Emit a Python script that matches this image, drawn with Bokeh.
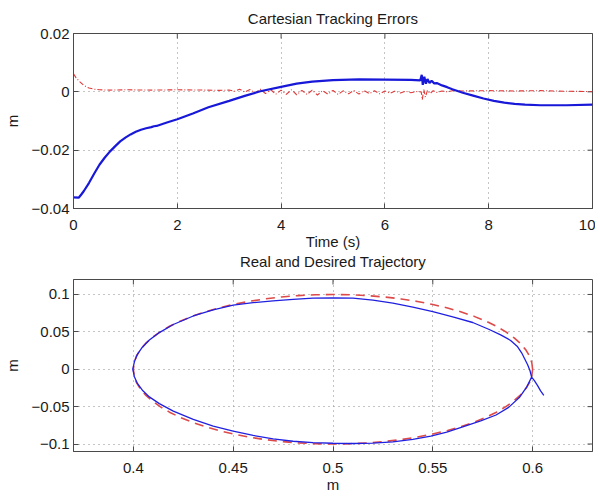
import math
from bokeh.plotting import figure
from bokeh.layouts import column
from bokeh.models import FixedTicker, CustomJSTickFormatter, Title, Range1d
from bokeh.embed import file_html
from bokeh.resources import INLINE

# ---------------- data: top panel (Cartesian tracking errors) ----------------
t_blue = [0, 0.1, 0.15, 0.2, 0.3, 0.4, 0.5, 0.6, 0.7, 0.8, 0.9, 1.0, 1.1, 1.2, 1.3, 1.4, 1.5,
          1.55, 1.6, 1.7, 1.8, 2.0, 2.3, 2.6, 3.0, 3.3, 3.6, 4.0, 4.3, 4.6, 5.0, 5.5, 6.0, 6.5,
          6.68, 6.71, 6.73, 6.76, 6.79, 6.82, 6.86, 6.9, 6.95, 7.0, 7.1, 7.2, 7.3, 7.5, 7.7,
          7.9, 8.1, 8.3, 8.5, 8.7, 9.0, 9.5, 10.0]
e_blue = [-0.0362, -0.0363, -0.0352, -0.0340, -0.0312, -0.0280, -0.0250, -0.0226, -0.0205,
          -0.0187, -0.0170, -0.0157, -0.0146, -0.0137, -0.0130, -0.0125, -0.0121, -0.0118,
          -0.0117, -0.0111, -0.0105, -0.0094, -0.0074, -0.0053, -0.0031, -0.0014, 0.0002,
          0.0017, 0.0028, 0.0035, 0.0040, 0.0043, 0.0042, 0.0041, 0.0039, 0.0058, 0.0024,
          0.0052, 0.0028, 0.0044, 0.0030, 0.0038, 0.0029, 0.0030, 0.0022, 0.0016, 0.0009,
          -0.0003, -0.0013, -0.0023, -0.0031, -0.0037, -0.0041, -0.0044, -0.0046, -0.0046,
          -0.0044]

t_red = [0, 0.05, 0.1, 0.15, 0.2, 0.25, 0.3, 0.4, 0.5, 0.7, 1.0, 1.5, 2.0, 2.5, 2.8, 3.0,
         3.1, 3.2, 3.3, 3.4, 3.5, 3.6, 3.7, 3.8, 3.9, 4.0, 4.1, 4.2, 4.3, 4.4, 4.5, 4.6, 4.7,
         4.8, 4.9, 5.0, 5.1, 5.2, 5.3, 5.4, 5.5, 5.6, 5.7, 5.8, 5.9, 6.0, 6.1, 6.2, 6.3, 6.4,
         6.5, 6.6, 6.7, 6.72, 6.75, 6.78, 6.82, 6.87, 6.93, 7.0, 7.1, 7.2, 7.3, 7.5, 8.0, 8.5,
         9.0, 9.5, 10.0]
e_red = [0.0062, 0.0048, 0.0038, 0.0030, 0.0022, 0.0017, 0.0013, 0.0009, 0.0007, 0.0006,
         0.0007, 0.0006, 0.0007, 0.0006, 0.0005, 0.0006,
         0.0002, 0.0009, -0.0001, 0.0008, -0.0004, 0.0009, -0.0006, 0.0007, -0.0008, 0.0006,
         -0.0009, 0.0007, -0.0010, 0.0005, -0.0009, 0.0006, -0.0011, 0.0004, -0.0008, 0.0005,
         -0.0009, 0.0004, -0.0007, 0.0005, -0.0008, 0.0004, -0.0006, 0.0004, -0.0007, 0.0003,
         -0.0005, 0.0003, -0.0004, 0.0002, -0.0003, 0.0001, 0.0000, -0.0027, 0.0008, -0.0018,
         0.0005, -0.0006, 0.0004, -0.0002, 0.0003, 0.0000, 0.0004, 0.0003, 0.0004, 0.0003,
         0.0004, 0.0002, 0.0001]

top_xrange = (0, 10)
top_yrange = (-0.04, 0.02)
top_xticks = [0, 2, 4, 6, 8, 10]
top_yticks = [-0.04, -0.02, 0, 0.02]

# ---------------- data: bottom panel (real and desired trajectory) ----------------
des_x = [0.6000, 0.5996, 0.5985, 0.5966, 0.5940, 0.5906, 0.5866, 0.5819, 0.5766, 0.5707,
         0.5643, 0.5574, 0.5500, 0.5423, 0.5342, 0.5259, 0.5174, 0.5087, 0.5000,
         0.4913, 0.4826, 0.4741, 0.4658, 0.4577, 0.4500, 0.4426, 0.4357, 0.4293, 0.4234,
         0.4181, 0.4134, 0.4094, 0.4060, 0.4034, 0.4015, 0.4004, 0.4000,
         0.4004, 0.4015, 0.4034, 0.4060, 0.4094, 0.4134, 0.4181, 0.4234, 0.4293, 0.4357,
         0.4426, 0.4500, 0.4577, 0.4658, 0.4741, 0.4826, 0.4913, 0.5000,
         0.5087, 0.5174, 0.5259, 0.5342, 0.5423, 0.5500, 0.5574, 0.5643, 0.5707, 0.5766,
         0.5819, 0.5866, 0.5906, 0.5940, 0.5966, 0.5985, 0.5996, 0.6000]
des_y = [0.0, 0.0087, 0.0174, 0.0259, 0.0342, 0.0423, 0.0500, 0.0574, 0.0643, 0.0707,
         0.0766, 0.0819, 0.0866, 0.0906, 0.0940, 0.0966, 0.0985, 0.0996, 0.1000,
         0.0996, 0.0985, 0.0966, 0.0940, 0.0906, 0.0866, 0.0819, 0.0766, 0.0707, 0.0643,
         0.0574, 0.0500, 0.0423, 0.0342, 0.0259, 0.0174, 0.0087, 0.0,
         -0.0087, -0.0174, -0.0259, -0.0342, -0.0423, -0.0500, -0.0574, -0.0643, -0.0707,
         -0.0766, -0.0819, -0.0866, -0.0906, -0.0940, -0.0966, -0.0985, -0.0996, -0.1000,
         -0.0996, -0.0985, -0.0966, -0.0940, -0.0906, -0.0866, -0.0819, -0.0766, -0.0707,
         -0.0643, -0.0574, -0.0500, -0.0423, -0.0342, -0.0259, -0.0174, -0.0087, 0.0]

real_x = [0.6056, 0.6040, 0.6025, 0.6008, 0.5995, 0.5987, 0.5975, 0.5960, 0.5945, 0.5925,
          0.5890, 0.5840, 0.5780, 0.5700, 0.5600, 0.5500, 0.5400, 0.5300, 0.5200, 0.5100,
          0.5000, 0.4900, 0.4800, 0.4700, 0.4600, 0.4500, 0.4400, 0.4300, 0.4200, 0.4130,
          0.4080, 0.4045, 0.4020, 0.4005, 0.3997, 0.4005, 0.4020, 0.4045, 0.4080, 0.4130,
          0.4200, 0.4300, 0.4400, 0.4500, 0.4600, 0.4700, 0.4800, 0.4900, 0.5000, 0.5100,
          0.5200, 0.5300, 0.5400, 0.5490, 0.5570, 0.5650, 0.5740, 0.5817, 0.5880, 0.5936,
          0.5970, 0.5995]
real_y = [-0.0350, -0.0290, -0.0220, -0.0150, -0.0105, -0.0020, 0.0060, 0.0140, 0.0220,
          0.0300, 0.0385, 0.0460, 0.0535, 0.0625, 0.0700, 0.0770, 0.0830, 0.0885, 0.0925,
          0.0950, 0.0955, 0.0950, 0.0935, 0.0915, 0.0890, 0.0858, 0.0795, 0.0712, 0.0598,
          0.0490, 0.0390, 0.0295, 0.0200, 0.0100, 0.0000, -0.0100, -0.0190, -0.0280,
          -0.0370, -0.0460, -0.0560, -0.0670, -0.0760, -0.0827, -0.0885, -0.0930, -0.0963,
          -0.0982, -0.0990, -0.0993, -0.0988, -0.0970, -0.0938, -0.0895, -0.0840, -0.0770,
          -0.0690, -0.0612, -0.0510, -0.0370, -0.0240, -0.0105]

bot_xrange = (0.37, 0.63)
bot_yrange = (-0.11, 0.12)
bot_xticks = [0.4, 0.45, 0.5, 0.55, 0.6]
bot_yticks = [-0.1, -0.05, 0, 0.05, 0.1]

FONT = "Liberation Sans"
FS = "15px"
TXT = "#1a1a1a"
EDGE = "#4a4a4a"

fmt_code = """
const a = Math.abs(tick);
if (a < 1e-12) { return '0'; }
const s = String(+a.toFixed(4));
return (tick < 0 ? '\\u2212' : '') + s;
"""


def style_axis(ax, ticks, standoff):
    ax.ticker = FixedTicker(ticks=ticks)
    ax.formatter = CustomJSTickFormatter(code=fmt_code)
    ax.minor_tick_line_color = None
    ax.minor_tick_in = 0
    ax.minor_tick_out = 0
    ax.major_tick_in = 5
    ax.major_tick_out = 0
    ax.major_tick_line_color = EDGE
    ax.axis_line_color = EDGE
    ax.major_label_text_font = FONT
    ax.major_label_text_font_size = FS
    ax.major_label_text_color = TXT
    ax.major_label_standoff = standoff
    ax.axis_label_text_font = FONT
    ax.axis_label_text_font_style = "normal"
    ax.axis_label_text_color = TXT
    ax.axis_label_text_font_size = FS


def make_panel(xr, yr, xticks, yticks, xlabel, ylabel, h, top, bottom):
    p = figure(title=None, x_range=Range1d(*xr), y_range=Range1d(*yr), width=595, height=h,
               min_border_left=72, min_border_right=3, min_border_top=top,
               min_border_bottom=bottom, output_backend="svg", toolbar_location=None,
               background_fill_color="white", border_fill_color="white")
    p.outline_line_color = EDGE
    p.outline_line_width = 1
    style_axis(p.xaxis[0], xticks, 11)
    style_axis(p.yaxis[0], yticks, 4)
    p.xaxis[0].axis_label = xlabel
    p.xaxis[0].axis_label_standoff = 0
    p.yaxis[0].axis_label = ylabel
    p.yaxis[0].axis_label_standoff = 8
    for g, tk in ((p.xgrid[0], xticks), (p.ygrid[0], yticks)):
        g.ticker = FixedTicker(ticks=tk)
        g.grid_line_color = "#8a8a8a"
        g.grid_line_dash = "1 4"
        g.grid_line_width = 1
    # inward tick marks on the top and right edges of the box (clipped to the frame)
    p.scatter(x=[xr[1]] * len(yticks), y=yticks, marker="dash", size=10,
              line_color=EDGE, line_width=1)
    p.scatter(x=xticks, y=[yr[1]] * len(xticks), marker="dash", angle=math.pi / 2, size=10,
              line_color=EDGE, line_width=1)
    return p


def make_title(text, standoff):
    return Title(text=text, align="center", vertical_align="top", text_font=FONT,
                 text_font_size=FS, text_font_style="normal", text_color=TXT,
                 standoff=standoff)


p1 = make_panel(top_xrange, top_yrange, top_xticks, top_yticks, "Time (s)", "m",
                33 + 175 + 63, 33, 63)
p1.add_layout(make_title("Cartesian Tracking Errors", 10), "above")
p1.add_layout(make_title("Real and Desired Trajectory", 0), "below")
p1.line(t_red, e_red, line_color="#e03a3a", line_width=1.1, line_dash="5 2 1 2")
p1.line(t_blue, e_blue, line_color="#1818d8", line_width=2.2)

p2 = make_panel(bot_xrange, bot_yrange, bot_xticks, bot_yticks, "m", "m",
                8 + 172 + 44, 8, 44)
p2.line(des_x, des_y, line_color="#dd4a4a", line_width=1.6, line_dash="9 6")
p2.line(real_x, real_y, line_color="#2020e0", line_width=1.3)

layout = column(p1, p2, spacing=0)
open("out.html", "w").write(file_html(layout, INLINE))
